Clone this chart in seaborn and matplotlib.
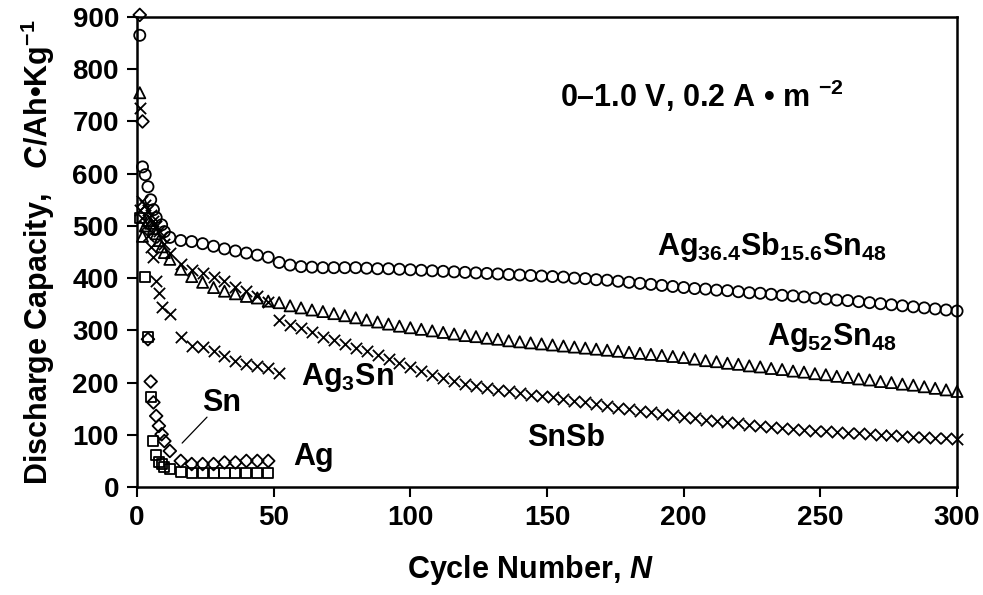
import matplotlib
matplotlib.use("Agg")
import matplotlib.pyplot as plt
import seaborn as sns
import pandas as pd

# ---------------- data ----------------
c_agsbsn = [1, 2, 3, 4, 5, 6, 7, 9, 10,
            12, 16, 20, 24, 28, 32, 36, 40, 44, 48,
            52, 56, 60, 64, 68, 72, 76, 80, 84, 88,
            92, 96, 100, 104, 108, 112, 116, 120, 124, 128,
            132, 136, 140, 144, 148, 152, 156, 160, 164, 168,
            172, 176, 180, 184, 188, 192, 196, 200, 204, 208,
            212, 216, 220, 224, 228, 232, 236, 240, 244, 248,
            252, 256, 260, 264, 268, 272, 276, 280, 284, 288,
            292, 296, 300]
v_agsbsn = [865, 613, 598, 575, 550, 531, 516, 502, 489,
            478, 472, 470, 466, 461, 456, 452, 448, 444, 440,
            430, 425, 422, 421, 420, 420, 420, 420, 419, 418,
            418, 417, 416, 415, 414, 413, 412, 411, 410, 409,
            408, 407, 406, 405, 404, 403, 402, 400, 399, 397,
            396, 394, 392, 390, 388, 386, 384, 382, 380, 379,
            377, 376, 374, 372, 371, 369, 367, 366, 364, 362,
            360, 358, 357, 355, 353, 351, 349, 347, 345, 343,
            341, 339, 337]

c_agsn = [1, 2, 3, 4, 5, 6, 7, 8, 9, 10,
          12, 16, 20, 24, 28, 32, 36, 40, 44, 48,
          52, 56, 60, 64, 68, 72, 76, 80, 84, 88,
          92, 96, 100, 104, 108, 112, 116, 120, 124, 128,
          132, 136, 140, 144, 148, 152, 156, 160, 164, 168,
          172, 176, 180, 184, 188, 192, 196, 200, 204, 208,
          212, 216, 220, 224, 228, 232, 236, 240, 244, 248,
          252, 256, 260, 264, 268, 272, 276, 280, 284, 288,
          292, 296, 300]
v_agsn = [755, 480, 500, 510, 505, 495, 485, 472, 460, 449,
          436, 417, 403, 392, 382, 375, 370, 365, 362, 356,
          353, 347, 343, 339, 336, 332, 328, 324, 320, 316,
          312, 308, 305, 302, 299, 296, 293, 290, 288, 285,
          283, 280, 278, 276, 274, 272, 270, 268, 266, 264,
          262, 260, 258, 256, 254, 252, 250, 248, 245, 242,
          240, 237, 235, 232, 230, 227, 225, 222, 220, 217,
          215, 212, 210, 207, 205, 202, 200, 197, 195, 192,
          189, 186, 183]

c_snsb = [1, 2, 3, 4, 5, 6, 7, 8, 9, 10,
          12, 16, 20, 24, 28, 32, 36, 40, 44, 48,
          52, 56, 60, 64, 68, 72, 76, 80, 84, 88,
          92, 96, 100, 104, 108, 112, 116, 120, 124, 128,
          132, 136, 140, 144, 148, 152, 156, 160, 164, 168,
          172, 176, 180, 184, 188, 192, 196, 200, 204, 208,
          212, 216, 220, 224, 228, 232, 236, 240, 244, 248,
          252, 256, 260, 264, 268, 272, 276, 280, 284, 288,
          292, 296, 300]
v_snsb = [726, 548, 540, 530, 520, 510, 500, 490, 478, 465,
          448, 428, 415, 410, 402, 394, 383, 375, 365, 355,
          320, 311, 304, 296, 288, 281, 274, 267, 260, 253,
          245, 238, 229, 222, 215, 209, 203, 198, 194, 190,
          186, 183, 180, 177, 175, 172, 168, 165, 162, 159,
          155, 152, 149, 146, 143, 140, 137, 135, 132, 129,
          126, 124, 122, 119, 117, 115, 113, 111, 110, 108,
          107, 106, 104, 103, 101, 100, 99, 97, 96, 95,
          94, 93, 92]

c_ag3sn = [1, 2, 3, 4, 5, 6, 7, 8, 9, 12, 16, 20, 24, 28, 32, 36, 40, 44, 48, 52]
v_ag3sn = [530, 515, 500, 480, 460, 441, 394, 371, 344, 331, 287, 270, 268, 260,
           250, 242, 236, 232, 228, 218]

c_sn = [1, 2, 4, 5, 6, 7, 8, 9, 10, 12, 16, 20, 24, 28, 32, 36, 40, 44, 48]
v_sn = [904, 700, 283, 202, 162, 136, 117, 101, 88, 69, 50, 44, 44, 44, 47, 47, 50, 50, 50]

c_ag = [1, 3, 4, 5, 6, 7, 8, 9, 10, 12, 16, 20, 24, 28, 32, 36, 40, 44, 48]
v_ag = [516, 403, 287, 172, 88, 61, 48, 44, 38, 34, 29, 27, 27, 27, 27, 27, 27, 27, 27]

x_ticks = [0, 50, 100, 150, 200, 250, 300]
y_ticks = [0, 100, 200, 300, 400, 500, 600, 700, 800, 900]

# ---------------- style ----------------
sns.set_theme(style="white")
plt.rcParams["font.family"] = ["Liberation Sans", "DejaVu Sans"]
plt.rcParams["font.weight"] = "bold"
plt.rcParams["text.color"] = "black"
plt.rcParams["axes.labelcolor"] = "black"
plt.rcParams["xtick.color"] = "black"
plt.rcParams["ytick.color"] = "black"
plt.rcParams["mathtext.fontset"] = "custom"
plt.rcParams["mathtext.rm"] = "Liberation Sans:bold"
plt.rcParams["mathtext.it"] = "Liberation Sans:italic:bold"
plt.rcParams["mathtext.bf"] = "Liberation Sans:bold"
plt.rcParams["mathtext.default"] = "rm"

fig, ax = plt.subplots(figsize=(9.83, 5.95), dpi=100)
fig.subplots_adjust(left=0.1394, right=0.9736, bottom=0.1815, top=0.9714)

lw = 1.3
series = [
    (c_agsbsn, v_agsbsn, "o", 64, True),
    (c_agsn, v_agsn, "^", 64, True),
    (c_snsb, v_snsb, "x", 66, False),
    (c_ag3sn, v_ag3sn, "x", 66, False),
    (c_sn, v_sn, "D", 42, True),
    (c_ag, v_ag, "s", 52, True),
]
for cx, vy, mk, sz, filled in series:
    df = pd.DataFrame({"cycle": cx, "cap": vy})
    if filled:
        sns.scatterplot(data=df, x="cycle", y="cap", marker=mk, s=sz,
                        facecolor="none", edgecolor="black", linewidth=lw,
                        ax=ax, clip_on=False, zorder=3, legend=False)
    else:
        sns.scatterplot(data=df, x="cycle", y="cap", marker=mk, s=sz,
                        color="black", linewidth=lw,
                        ax=ax, clip_on=False, zorder=3, legend=False)

ax.set_xlim(0, 300)
ax.set_ylim(0, 900)
ax.set_xticks(x_ticks)
ax.set_yticks(y_ticks)
ax.tick_params(axis="both", which="both", direction="out", length=7, width=1.5,
               labelsize=20, bottom=True, left=True, top=False, right=False,
               pad=6, colors="black")
for lab in ax.get_xticklabels() + ax.get_yticklabels():
    lab.set_fontweight("bold")
for sp in ax.spines.values():
    sp.set_linewidth(1.8)
    sp.set_color("black")

ax.set_xlabel("Cycle Number, $\\mathit{N}$", fontsize=22, fontweight="bold",
              labelpad=16, color="black")
ax.xaxis.label.set_x(0.48)
ax.set_ylabel("Discharge Capacity,   $\\mathit{C}$/Ah\u2022Kg$^{-1}$", fontsize=22,
              fontweight="bold", labelpad=11, color="black")

tk = dict(fontsize=22, fontweight="bold", color="black")
ax.text(154.8, 749, "0\u20131.0 V, 0.2 A \u2022 m $^{-2}$", ha="left", va="center", **tk)
ax.text(190.2, 459, "Ag$_{36.4}$Sb$_{15.6}$Sn$_{48}$", ha="left", va="center", **tk)
ax.text(230.5, 287, "Ag$_{52}$Sn$_{48}$", ha="left", va="center", **tk)
ax.text(60.0, 210, "Ag$_{3}$Sn", ha="left", va="center", **tk)
ax.text(23.8, 160, "Sn", ha="left", va="center", **tk)
ax.text(57, 57, "Ag", ha="left", va="center", **tk)
ax.text(142.7, 94, "SnSb", ha="left", va="center", **tk)
ax.plot([25.6, 16.5], [133.8, 84.1], color="black", linewidth=0.9)

fig.savefig("out.png", dpi=100)
